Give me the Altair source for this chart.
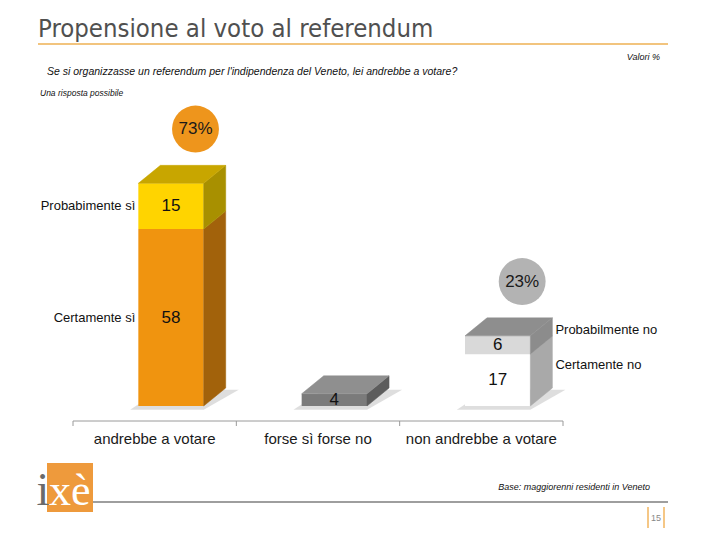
import altair as alt
import pandas as pd

# Propensione al voto al referendum - barre "3D" impilate

categorie = ["andrebbe a votare", "forse sì forse no", "non andrebbe a votare"]

seg_cat = [0, 0, 1, 2, 2]
seg_nome = ["Certamente sì", "Probabimente sì", "", "Certamente no", "Probabilmente no"]
seg_valore = [58, 15, 4, 17, 6]
seg_lato = ["left", "left", "none", "right", "right"]
col_fronte = ["#F0940F", "#FFD400", "#7B7B7B", "#FFFFFF", "#D9D9D9"]
col_fianco = ["#A2620B", "#A89000", "#5C5C5C", "#A9A9A9", "#8C8C8C"]
col_cima = ["#C8A600", "#8F8F8F", "#8E8E8E"]

cerchio_cat = [0, 2]
cerchio_col = ["#EE951C", "#B3B3B3"]

tacche = [-0.5, 0.5, 1.5, 2.5]

# geometria delle barre (unità di scala)
L, R = -0.1, 0.3
DX, DY = 0.135, 5.9

FONT = "Liberation Sans, Arial, sans-serif"
NARROW = "Liberation Sans Narrow, DejaVu Sans Condensed, sans-serif"

seg = pd.DataFrame({
    "cat": seg_cat, "nome": seg_nome, "valore": seg_valore,
    "lato": seg_lato, "fronte": col_fronte, "fianco": col_fianco,
})
seg["id"] = range(len(seg))
seg["base"] = seg.groupby("cat")["valore"].cumsum() - seg["valore"]
seg["cima"] = seg["base"] + seg["valore"]
seg["x"] = seg["cat"] + L
seg["x2"] = seg["cat"] + R
seg["xm"] = seg["cat"] + (L + R) / 2
seg["ym"] = (seg["base"] + seg["cima"]) / 2

tot = seg.groupby("cat")["valore"].sum().reset_index(name="tot")
tot["cima_col"] = col_cima

# fianchi (parallelogrammi)
fianchi = pd.concat([
    pd.DataFrame({"id": seg["id"], "x": seg["cat"] + R, "y": seg["cima"],
                  "y2": seg["base"], "c": seg["fianco"]}),
    pd.DataFrame({"id": seg["id"], "x": seg["cat"] + R + DX, "y": seg["cima"] + DY,
                  "y2": seg["base"] + DY, "c": seg["fianco"]}),
])

# facce superiori
cime = pd.concat([
    pd.DataFrame({"cat": tot["cat"], "y": tot["tot"], "x": tot["cat"] + L,
                  "x2": tot["cat"] + R, "c": tot["cima_col"]}),
    pd.DataFrame({"cat": tot["cat"], "y": tot["tot"] + DY, "x": tot["cat"] + L + DX,
                  "x2": tot["cat"] + R + DX, "c": tot["cima_col"]}),
])

# ombre a terra
ombre = pd.concat([
    pd.DataFrame({"cat": tot["cat"], "y": -1.2, "x": tot["cat"] + L - 0.05,
                  "x2": tot["cat"] + R}),
    pd.DataFrame({"cat": tot["cat"], "y": DY - 0.6, "x": tot["cat"] + L + DX,
                  "x2": tot["cat"] + R + DX + 0.08}),
])

cerchi = tot[tot["cat"].isin(cerchio_cat)].copy()
cerchi["col"] = cerchio_col
cerchi["x"] = cerchi["cat"] + 0.25
cerchi["y"] = cerchi["tot"] + 17.8
cerchi["testo"] = cerchi["tot"].astype(str) + "%"

etichette = pd.DataFrame({"x": [0, 1, 2], "testo": categorie})

xs = alt.Scale(domain=[-0.5, 2.5], nice=False, zero=False)
ys = alt.Scale(domain=[-4.92, 100.33], nice=False, zero=False)

W, H = 490, 321
# origine dell'area del grafico nella pagina
OX, OY = 73, 100


def px(v):
    return alt.value(v - OX)


def py(v):
    return alt.value(v - OY)


asse = alt.Chart(pd.DataFrame({"a": [tacche[0]], "b": [tacche[-1]]})).mark_rule(
    color="#9A9A9A", strokeWidth=1
).encode(
    x=alt.X("a:Q", scale=xs, axis=None), x2="b:Q", y=alt.value(H)
)

tick = alt.Chart(pd.DataFrame({"t": tacche})).mark_rule(color="#9A9A9A", strokeWidth=1).encode(
    x=alt.X("t:Q", scale=xs, axis=None), y=alt.value(H), y2=alt.value(H + 5)
)

ombra = alt.Chart(ombre).mark_area(orient="horizontal", color="#C8C8C8", opacity=0.6).encode(
    y=alt.Y("y:Q", scale=ys, axis=None),
    x=alt.X("x:Q", scale=xs, axis=None),
    x2="x2:Q",
    detail="cat:N",
)

fronte = alt.Chart(seg).mark_rect().encode(
    x=alt.X("x:Q", scale=xs, axis=None),
    x2="x2:Q",
    y=alt.Y("base:Q", scale=ys, axis=None),
    y2="cima:Q",
    color=alt.Color("fronte:N", scale=None),
)

fianco = alt.Chart(fianchi).mark_area(orient="vertical", strokeWidth=0.5).encode(
    x=alt.X("x:Q", scale=xs, axis=None),
    y=alt.Y("y:Q", scale=ys, axis=None),
    y2="y2:Q",
    detail="id:N",
    color=alt.Color("c:N", scale=None),
    stroke=alt.Stroke("c:N", scale=None),
)

cima = alt.Chart(cime).mark_area(orient="horizontal", strokeWidth=0.5).encode(
    y=alt.Y("y:Q", scale=ys, axis=None),
    x=alt.X("x:Q", scale=xs, axis=None),
    x2="x2:Q",
    detail="cat:N",
    color=alt.Color("c:N", scale=None),
    stroke=alt.Stroke("c:N", scale=None),
)

valori = alt.Chart(seg).mark_text(font=FONT, fontSize=17, color="#111111").encode(
    x=alt.X("xm:Q", scale=xs, axis=None),
    y=alt.Y("ym:Q", scale=ys, axis=None),
    text="valore:Q",
)

nomi_sx = alt.Chart(seg[seg["lato"] == "left"]).mark_text(
    font=FONT, fontSize=13, color="#111111", align="right", dx=-3
).encode(
    x=alt.X("x:Q", scale=xs, axis=None),
    y=alt.Y("ym:Q", scale=ys, axis=None),
    text="nome:N",
)

nomi_dx = alt.Chart(seg[seg["lato"] == "right"]).transform_calculate(
    xr=f"datum.cat + {R + DX}", yr=f"datum.ym + {DY - 1}"
).mark_text(font=FONT, fontSize=13, color="#111111", align="left", dx=3).encode(
    x=alt.X("xr:Q", scale=xs, axis=None),
    y=alt.Y("yr:Q", scale=ys, axis=None),
    text="nome:N",
)

cerchio = alt.Chart(cerchi).mark_circle(size=2200, opacity=1).encode(
    x=alt.X("x:Q", scale=xs, axis=None),
    y=alt.Y("y:Q", scale=ys, axis=None),
    color=alt.Color("col:N", scale=None),
)

cerchio_txt = alt.Chart(cerchi).mark_text(font=FONT, fontSize=17, color="#1a1a1a").encode(
    x=alt.X("x:Q", scale=xs, axis=None),
    y=alt.Y("y:Q", scale=ys, axis=None),
    text="testo:N",
)

cat_txt = alt.Chart(etichette).mark_text(font=FONT, fontSize=15, color="#1a1a1a").encode(
    x=alt.X("x:Q", scale=xs, axis=None),
    y=py(439),
    text="testo:N",
)


def testo(t, x, y, size, align="left", style="italic", color="#111111", font=FONT, base="middle"):
    return alt.Chart(pd.DataFrame({"t": [t]})).mark_text(
        font=font, fontSize=size, fontStyle=style, align=align, baseline=base, color=color
    ).encode(x=px(x), y=py(y), text="t:N")


def linea(x1, x2, y, color, w):
    return alt.Chart(pd.DataFrame({"a": [0]})).mark_rule(color=color, strokeWidth=w).encode(
        x=px(x1), x2=px(x2), y=py(y)
    )


def vlinea(x, y1, y2, color, w):
    return alt.Chart(pd.DataFrame({"a": [0]})).mark_rule(color=color, strokeWidth=w).encode(
        x=px(x), y=py(y1), y2=py(y2)
    )


logo = alt.Chart(pd.DataFrame({"a": [0]})).mark_rect(color="#EE9A3C").encode(
    x=px(47), x2=px(93), y=py(463), y2=py(512)
)

decor = [
    testo("Propensione al voto al referendum", 38, 37, 25.5, style="normal",
          color="#505050", font=NARROW, base="alphabetic"),
    linea(38, 668, 44, "#F2C47E", 2),
    testo("Valori %", 660, 57, 9, align="right"),
    testo("Se si organizzasse un referendum per l'indipendenza del Veneto, lei andrebbe a votare?",
          47, 72, 10.5),
    testo("Una risposta possibile", 40, 93, 8.5),
    testo("Base: maggiorenni residenti in Veneto", 650, 487, 9, align="right"),
    linea(93, 668, 502, "#9E9E9E", 2),
    vlinea(648, 507, 528, "#F2B45E", 1.5),
    vlinea(664, 507, 528, "#F2B45E", 1.5),
    testo("15", 656, 518, 9, align="center", style="normal", color="#888888"),
    logo,
    testo("i", 43, 505, 46, align="center", style="normal", color="#6A6A6A",
          font="Liberation Serif, DejaVu Serif, serif", base="alphabetic"),
    testo("xè", 49, 505, 44, style="normal", color="#FFFFFF",
          font="Liberation Serif, DejaVu Serif, serif", base="alphabetic"),
]

chart = alt.layer(
    asse, tick, ombra, fronte, fianco, cima, valori, nomi_sx, nomi_dx,
    cerchio, cerchio_txt, cat_txt, *decor
).properties(
    width=W,
    height=H,
    padding={"left": OX - 8, "top": OY - 8, "right": 704 - (OX - 8) - W,
             "bottom": 524 - (OY - 8) - H},
    autosize=alt.AutoSizeParams(type="none"),
    background="white",
).configure_view(stroke=None)

chart.save("out.html", embed_options={"renderer": "svg", "actions": False})
